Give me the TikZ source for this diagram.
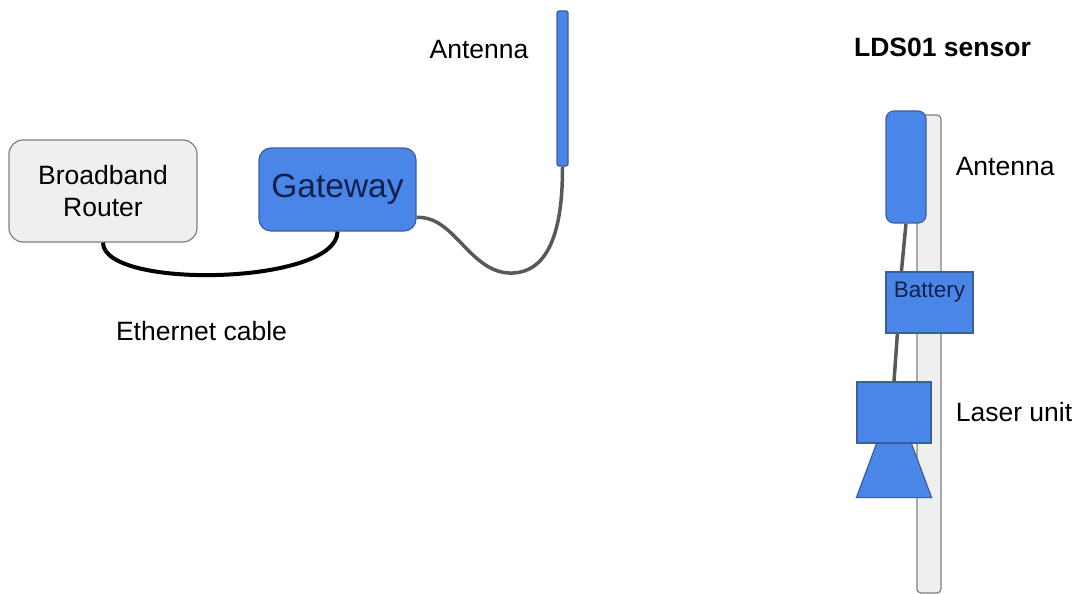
\documentclass[tikz,border=0pt]{standalone}
\usepackage{fontspec}
\setmainfont{Liberation Sans}
\usetikzlibrary{positioning}
\definecolor{devblue}{HTML}{4A86E8}
\definecolor{devedge}{HTML}{3D5E9E}
\definecolor{devtext}{HTML}{13204A}
\definecolor{boxgray}{HTML}{EFEFEF}
\definecolor{edgegray}{HTML}{7F7F7F}
\definecolor{wiregray}{HTML}{595959}

\begin{document}
\begin{tikzpicture}[x=1pt,y=-1pt,
			every node/.style={inner sep=0pt,font=\fontsize{26.5}{32}\selectfont},
			device/.style={draw=devedge,fill=devblue,text=devtext,line width=1.2pt},
			graybox/.style={draw=edgegray,fill=boxgray,line width=1.2pt},
			wire/.style={draw=wiregray,line width=3.5pt},
			cable/.style={draw=black,line width=4pt}]
			\useasboundingbox (0,0) rectangle (1080,594);
			% network side
			\node (router) [graybox,rounded corners=14pt,minimum width=188pt,minimum height=102pt,
				align=center] at (103,191) {Broadband\\Router};
			\node (gateway) [device,rounded corners=12pt,minimum width=157pt,minimum height=83pt,
				font=\fontsize{33.5}{40}\selectfont] at (337.5,189.5) {Gateway};
			\node (antenna) [device,rounded corners=2pt,minimum width=11pt,minimum height=155pt] at (562.5,88.5) {};
			\node (antlabel) at (479,50) {Antenna};
			\node (ethlabel) at (201.5,331) {Ethernet cable};
			\draw [cable] (router.south) .. controls (103,290) and (337.5,285) .. (gateway.south);
			\draw [wire] ([yshift=-28pt]gateway.east) .. controls (455,215) and (470,275) .. (513,273)
				.. controls (560,271) and (562.5,200) .. (antenna.south);
			% sensor side
			\node (title) [font=\fontsize{26.5}{32}\selectfont\bfseries] at (942.5,47) {LDS01 sensor};
			\node (pole) [graybox,rounded corners=4pt,minimum width=24pt,minimum height=478pt] at (929,354) {};
			\node (santenna) [device,rounded corners=8pt,minimum width=40pt,minimum height=112pt] at (906,167) {};
			\node (battery) [device,minimum width=87pt,minimum height=61pt,
				label={[yshift=10pt,text=devtext,font=\fontsize{22.5}{27}\selectfont]center:Battery}] at (929.5,302.5) {};
			\node (laser) [device,minimum width=74pt,minimum height=61pt] at (894,412.5) {};
			\draw [device] ([xshift=-17.5pt]laser.south) -- ([xshift=17.5pt]laser.south)
				-- ([yshift=-54pt]laser.south east) -- ([yshift=-54pt]laser.south west) -- cycle;
			\draw [wire] (santenna.south) -- ([xshift=16pt]battery.north west);
			\draw [wire] ([xshift=12pt]battery.south west) -- (laser.north);
			\node (santlabel) [right=29pt of santenna] {Antenna};
			\node (laserlabel) [right=24pt of laser] {Laser unit};
		\end{tikzpicture}
\end{document}
